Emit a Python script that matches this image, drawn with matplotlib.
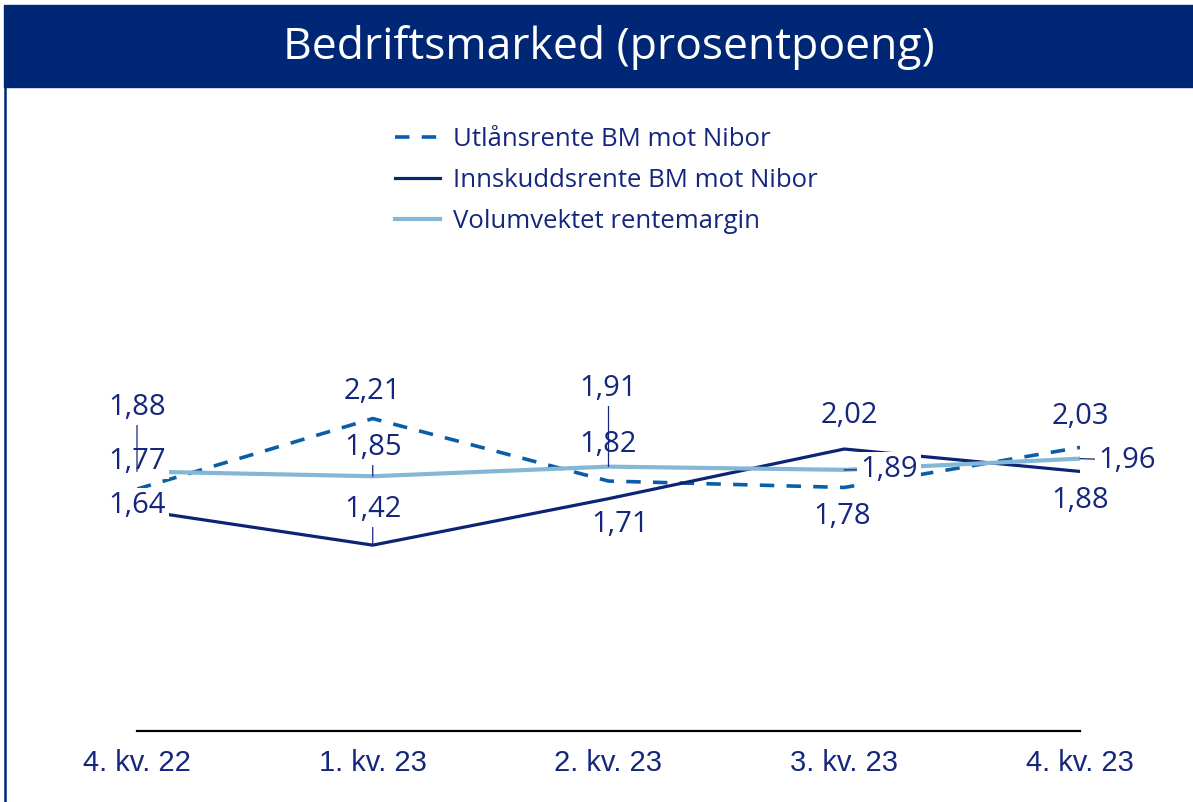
import matplotlib.pyplot as plt
from matplotlib.lines import Line2D
from matplotlib.patches import Rectangle

# data
kvartaler = ['4. kv. 22', '1. kv. 23', '2. kv. 23', '3. kv. 23', '4. kv. 23']
utlan = [1.77, 2.21, 1.82, 1.78, 2.03]
innskudd = [1.64, 1.42, 1.71, 2.02, 1.88]
volum = [1.88, 1.85, 1.91, 1.89, 1.96]

navn = ['Utlånsrente BM mot Nibor', 'Innskuddsrente BM mot Nibor',
        'Volumvektet rentemargin']

NAVY = '#002776'
TXT = '#15277c'
DASH = '#0a5ea8'
LIGHT = '#84b7d6'
SOLID = '#0b2574'
FONT = ['Open Sans', 'DejaVu Sans']

W, H = 1193, 802
fig = plt.figure(figsize=(W / 100, H / 100), dpi=100)

# tittelfelt og venstre kant
fig.patches.append(Rectangle((4 / W, 1 - 87 / H), 1 - 4 / W, 82 / H,
                             transform=fig.transFigure, color=NAVY, zorder=0))
fig.add_artist(Line2D([5 / W, 5 / W], [0, 1 - 86 / H], color=NAVY, lw=1.8,
                      transform=fig.transFigure))
fig.text(0.51, 1 - 47 / H, 'Bedriftsmarked (prosentpoeng)', color='white',
         fontsize=32, fontfamily=FONT, ha='center', va='center')

ax = fig.add_axes([137 / W, 71 / H, (1080 - 137) / W, 431 / H])
x = list(range(len(kvartaler)))
ax.plot(x, utlan, color=DASH, lw=2.6, dashes=(4, 3.4), label=navn[0], zorder=2)
ax.plot(x, innskudd, color=SOLID, lw=2.3, label=navn[1], zorder=2)
ax.plot(x, volum, color=LIGHT, lw=3.0, label=navn[2], zorder=2)
ax.set_xlim(0, 4)
ax.set_ylim(0.26, 2.95)

for s in ['left', 'right', 'top']:
    ax.spines[s].set_visible(False)
ax.spines['bottom'].set_linewidth(1.6)
ax.set_yticks([])
ax.set_xticks(x)
ax.set_xticklabels(kvartaler, fontsize=21, color=TXT, fontfamily='Liberation Sans')
ax.tick_params(axis='x', length=0, pad=13)

# dataetiketter: plassering (kategori, verdi) og om de har hjelpelinje
pos_utlan = [(0.0, 1.94), (1.0, 2.38), (2.0, 2.05), (2.99, 1.60), (4.0, 2.22)]
pos_innskudd = [(0.0, 1.67), (1.0, 1.64), (2.05, 1.55), (3.02, 2.23), (4.0, 1.70)]
pos_volum = [(0.0, 2.28), (1.0, 2.03), (2.0, 2.40), (3.19, 1.89), (4.2, 1.95)]

serier = [(utlan, pos_utlan, [False] * 5),
          (innskudd, pos_innskudd, [False, True, False, False, False]),
          (volum, pos_volum, [True] * 5)]

for serie, pos, leder in serier:
    for i, (v, (px, py), har_leder) in enumerate(zip(serie, pos, leder)):
        tekst = f'{v:.2f}'.replace('.', ',')
        arrow = None
        if har_leder:
            arrow = dict(arrowstyle='-', color=TXT, lw=0.9, shrinkA=0, shrinkB=0)
        ann = ax.annotate(tekst, xy=(i, v), xytext=(px, py), textcoords='data',
                          fontsize=21, color=TXT, fontfamily=FONT,
                          ha='center', va='center', arrowprops=arrow,
                          bbox=dict(boxstyle='square,pad=0.1', fc='white', ec='none'),
                          annotation_clip=False)
        ann.set_zorder(6)
        if ann.arrow_patch is not None:
            ann.arrow_patch.set_zorder(4)

leg = ax.legend(loc='upper center', bbox_to_anchor=(606 / W, 1 - 104 / H),
                bbox_transform=fig.transFigure, frameon=False,
                handlelength=1.75, handletextpad=0.5, labelspacing=0.62,
                prop={'family': FONT, 'size': 18.5})
for t in leg.get_texts():
    t.set_color(TXT)

fig.savefig('out.png', dpi=100)
